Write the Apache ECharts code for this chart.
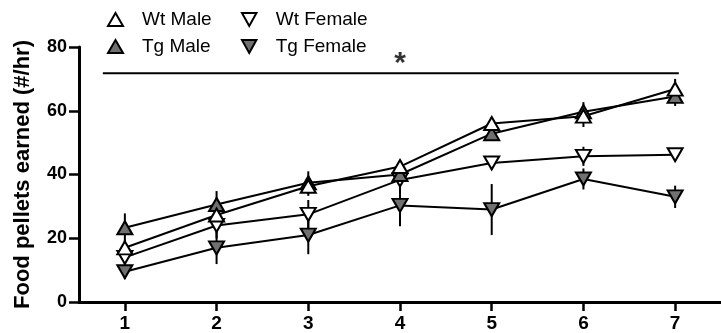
<!DOCTYPE html>
<html>
<head>
<meta charset="utf-8">
<script src="https://cdn.jsdelivr.net/npm/echarts@6/dist/echarts.min.js"></script>
<style>
html,body{margin:0;padding:0;background:#fff;}
#c{width:721px;height:333px;}
</style>
</head>
<body>
<div id="c"></div>
<script>
const days = [1, 2, 3, 4, 5, 6, 7];
const yTicks = [0, 20, 40, 60, 80];
const wtMale = [17.0, 27.3, 36.3, 42.5, 56.0, 58.3, 66.8];
const tgMale = [23.3, 30.6, 37.4, 40.0, 52.8, 59.7, 64.5];
const wtFemale = [14.0, 24.0, 27.5, 38.3, 43.6, 45.7, 46.2];
const tgFemale = [9.5, 17.0, 21.0, 30.3, 29.0, 38.6, 33.0];
const wtMaleErr = [2.5, 3.0, 3.0, 2.0, 2.0, 3.4, 3.2];
const tgMaleErr = [4.5, 4.2, 3.6, 3.0, 2.0, 3.0, 3.0];
const wtFemaleErr = [2.5, 4.0, 4.5, 3.0, 2.0, 3.0, 2.0];
const tgFemaleErr = [2.3, 5.1, 6.0, 6.5, 8.0, 3.3, 3.5];
const sigBar = [0.76, 7.04, 71.8];
const sigText = '*';
const sigAt = 4;
const yName = 'Food pellets earned (#/hr)';

const FONT = 'Liberation Sans, Arial, sans-serif';
const GRAY = '#707070';
const UP = 'triangle';
const DOWN = 'path://M0,0 L10,0 L5,9 Z';

function pts(vals) { return days.map((d, i) => [d, vals[i]]); }
function errPts(vals, errs) { return days.map((d, i) => [d, vals[i] - errs[i], vals[i] + errs[i]]); }

function errSeries(vals, errs) {
  return {
    type: 'custom',
    silent: true,
    z: 1,
    data: errPts(vals, errs),
    renderItem: function (params, api) {
      const lo = api.coord([api.value(0), api.value(1)]);
      const hi = api.coord([api.value(0), api.value(2)]);
      return {
        type: 'line',
        shape: { x1: lo[0], y1: lo[1], x2: hi[0], y2: hi[1] },
        style: { stroke: '#000', lineWidth: 2 }
      };
    }
  };
}

function lineSeries(name, vals, symbol, fill) {
  return {
    name: name,
    type: 'line',
    z: 3,
    data: pts(vals),
    symbol: symbol,
    symbolSize: [15, 13],
    showAllSymbol: true,
    lineStyle: { color: '#000', width: 2 },
    itemStyle: { color: fill, borderColor: '#000', borderWidth: 2 },
    emphasis: { disabled: true },
    animation: false
  };
}

const legendText = { fontFamily: FONT, fontSize: 19, color: '#000', padding: [0, 0, 0, 14] };

const chart = echarts.init(document.getElementById('c'), null, { renderer: 'canvas' });
chart.setOption({
  animation: false,
  backgroundColor: '#fff',
  grid: { left: 79, right: -2, top: 47, bottom: 30 },
  legend: [
    {
      orient: 'vertical', left: 102, top: 5, itemGap: 8,
      itemWidth: 15, itemHeight: 13,
      data: [{ name: 'Wt Male', icon: UP }, { name: 'Tg Male', icon: UP }],
      textStyle: legendText,
      selectedMode: false
    },
    {
      orient: 'vertical', left: 236, top: 5, itemGap: 8,
      itemWidth: 15, itemHeight: 13,
      data: [{ name: 'Wt Female', icon: DOWN }, { name: 'Tg Female', icon: DOWN }],
      textStyle: legendText,
      selectedMode: false
    }
  ],
  xAxis: {
    type: 'value', min: 0.5, max: 7.5,
    axisLine: { show: true, lineStyle: { color: '#000', width: 3 } },
    axisTick: { show: true, length: 9, customValues: days, lineStyle: { color: '#000', width: 2.5 } },
    axisLabel: { customValues: days, margin: 12, fontFamily: FONT, fontSize: 19, fontWeight: 'bold', color: '#000' },
    splitLine: { show: false }
  },
  yAxis: {
    type: 'value', min: 0, max: 80, interval: 20,
    name: yName, nameLocation: 'middle', nameGap: 45,
    nameTextStyle: { fontFamily: FONT, fontSize: 22, fontWeight: 'bold', color: '#000' },
    axisLine: { show: true, lineStyle: { color: '#000', width: 3 } },
    axisTick: { show: true, length: 10, customValues: yTicks, lineStyle: { color: '#000', width: 2.5 } },
    axisLabel: { customValues: yTicks, margin: 12, fontFamily: FONT, fontSize: 18, fontWeight: 'bold', color: '#000' },
    splitLine: { show: false }
  },
  series: [
    errSeries(wtMale, wtMaleErr),
    errSeries(tgMale, tgMaleErr),
    errSeries(wtFemale, wtFemaleErr),
    errSeries(tgFemale, tgFemaleErr),
    lineSeries('Tg Female', tgFemale, DOWN, GRAY),
    lineSeries('Wt Female', wtFemale, DOWN, '#fff'),
    lineSeries('Tg Male', tgMale, UP, GRAY),
    lineSeries('Wt Male', wtMale, UP, '#fff'),
    {
      type: 'line', silent: true, z: 2,
      data: [[sigBar[0], sigBar[2]], [sigBar[1], sigBar[2]]],
      symbol: 'none',
      lineStyle: { color: '#000', width: 2 }
    },
    {
      type: 'scatter', silent: true, z: 2,
      data: [[sigAt, sigBar[2]]],
      symbolSize: 0,
      label: { show: true, position: 'top', distance: -6, formatter: sigText, fontFamily: FONT, fontSize: 30, fontWeight: 'bold', color: '#000' }
    }
  ]
});
</script>
</body>
</html>
